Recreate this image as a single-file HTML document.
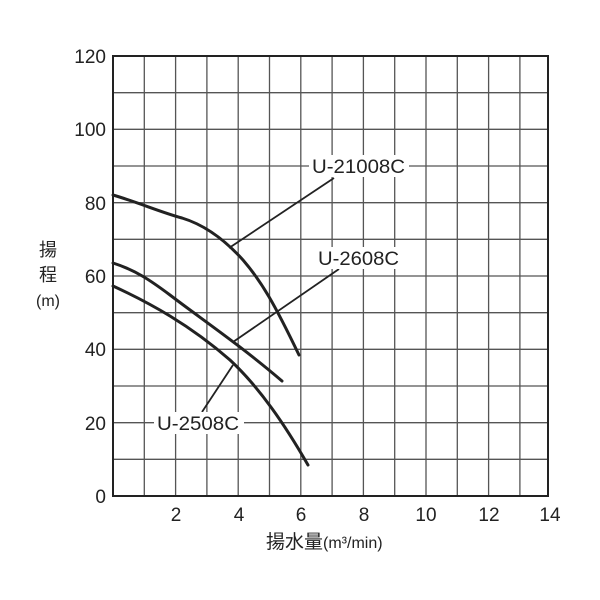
<!DOCTYPE html>
<html><head><meta charset="utf-8"><style>body{margin:0;background:#fff}svg{display:block}</style></head><body>
<svg width="600" height="600" viewBox="0 0 600 600" xmlns="http://www.w3.org/2000/svg" font-family="Liberation Sans, Noto Sans CJK JP, sans-serif">
<g stroke="#555" stroke-width="1.3">
<line x1="144.3" y1="56" x2="144.3" y2="496"/><line x1="175.6" y1="56" x2="175.6" y2="496"/><line x1="206.9" y1="56" x2="206.9" y2="496"/><line x1="238.2" y1="56" x2="238.2" y2="496"/><line x1="269.5" y1="56" x2="269.5" y2="496"/><line x1="300.8" y1="56" x2="300.8" y2="496"/><line x1="332.1" y1="56" x2="332.1" y2="496"/><line x1="363.4" y1="56" x2="363.4" y2="496"/><line x1="394.7" y1="56" x2="394.7" y2="496"/><line x1="426" y1="56" x2="426" y2="496"/><line x1="457.3" y1="56" x2="457.3" y2="496"/><line x1="488.6" y1="56" x2="488.6" y2="496"/><line x1="519.9" y1="56" x2="519.9" y2="496"/>
<line x1="113" y1="92.7" x2="548" y2="92.7"/><line x1="113" y1="129.3" x2="548" y2="129.3"/><line x1="113" y1="166" x2="548" y2="166"/><line x1="113" y1="202.7" x2="548" y2="202.7"/><line x1="113" y1="239.3" x2="548" y2="239.3"/><line x1="113" y1="276" x2="548" y2="276"/><line x1="113" y1="312.7" x2="548" y2="312.7"/><line x1="113" y1="349.3" x2="548" y2="349.3"/><line x1="113" y1="386" x2="548" y2="386"/><line x1="113" y1="422.7" x2="548" y2="422.7"/><line x1="113" y1="459.3" x2="548" y2="459.3"/>
</g>
<rect x="113" y="56" width="435" height="440" fill="none" stroke="#222" stroke-width="2"/>
<g fill="none" stroke="#222" stroke-width="3" stroke-linecap="round">
<path d="M113,195 C140,203 160,212 182,218 C205,225 225,240 243,260 C262,282 275,305 299,355"/>
<path d="M113,263 C135,270 150,280 170,295 C200,318 240,345 282,381"/>
<path d="M113,286 C150,303 190,325 230,360 C260,388 285,425 308,465"/>
</g>
<g stroke="#222" stroke-width="1.8">
<line x1="229" y1="248" x2="334" y2="178"/><line x1="233" y1="342" x2="339" y2="269"/><line x1="202" y1="412" x2="233" y2="365"/>
</g>
<g font-size="19" fill="#222" textLength="93">
<rect x="309" y="155" width="100" height="22" fill="#fff"/><text x="312" y="173" textLength="93" lengthAdjust="spacingAndGlyphs">U-21008C</text>
<rect x="315" y="247" width="87" height="22" fill="#fff"/><text x="318" y="265" textLength="81" lengthAdjust="spacingAndGlyphs">U-2608C</text>
<rect x="154" y="412" width="90" height="22" fill="#fff"/><text x="157" y="430" textLength="82" lengthAdjust="spacingAndGlyphs">U-2508C</text>
</g>
<g font-size="19" fill="#222" text-anchor="end">
<text x="106" y="63">120</text><text x="106" y="136">100</text><text x="106" y="210">80</text><text x="106" y="283">60</text><text x="106" y="356">40</text><text x="106" y="430">20</text><text x="106" y="503">0</text>
</g>
<g font-size="19" fill="#222" text-anchor="middle">
<text x="176" y="521">2</text><text x="239" y="521">4</text><text x="301" y="521">6</text><text x="364" y="521">8</text><text x="426" y="521">10</text><text x="489" y="521">12</text><text x="550" y="521">14</text>
</g>
<g font-size="18" fill="#222" text-anchor="middle">
<text x="48" y="256">揚</text><text x="48" y="281">程</text><text x="48" y="306" font-size="16">(m)</text>
</g>
<text x="266" y="548" font-size="19" fill="#222">揚水量<tspan font-size="16">(m³/min)</tspan></text>
</svg>
</body></html>
